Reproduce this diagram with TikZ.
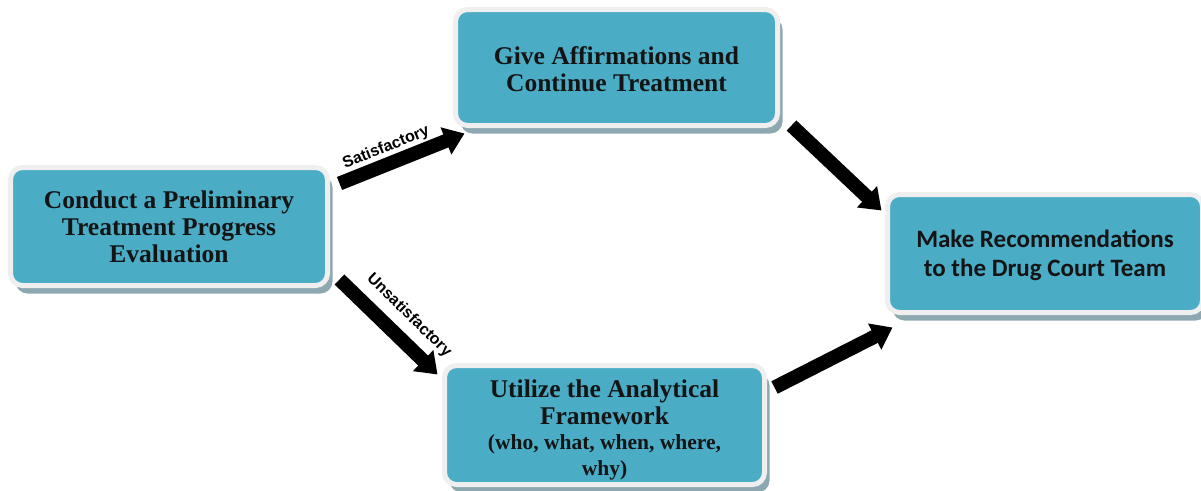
\documentclass[tikz,border=0pt]{standalone}
\usepackage{fontspec}
\setmainfont{Liberation Serif}
\newfontfamily\calfont{Carlito}
\newfontfamily\lblfont{Liberation Sans}
\usetikzlibrary{arrows.meta,shadows,calc}
\definecolor{tealbox}{HTML}{4BACC6}
\definecolor{rim}{HTML}{EFEFEF}
\definecolor{shade}{HTML}{8EA8B2}
\newcommand{\smallln}{\fontsize{21.5}{23}\selectfont}
\tikzset{
 box/.style={draw=rim, line width=5pt, fill=tealbox, rounded corners=12pt, align=center,
   inner sep=0pt, text=black!92, font=\bfseries\fontsize{25.5}{27}\selectfont,
   drop shadow={shadow xshift=5pt, shadow yshift=-8pt, fill=shade, opacity=1}},
 blk/.style={line width=14pt, -{Triangle[width=28pt,length=20pt]}, black},
 lbl/.style={font=\lblfont\bfseries\fontsize{16}{16}\selectfont, sloped, inner sep=0pt}
}
\begin{document}
\begin{tikzpicture}[x=1pt,y=-1pt]
\useasboundingbox (0,0) rectangle (1201,490);
\node[box, minimum width=317pt, minimum height=118pt] (b1) at (169,226.5)
  {Conduct a Preliminary\\Treatment Progress\\Evaluation};
\node[box, minimum width=322pt, minimum height=116pt] (b2) at (616.5,67.5)
  {\rule{0pt}{21pt}Give Affirmations and\\Continue Treatment};
\node[box, minimum width=315pt, minimum height=118pt, font=\calfont\bfseries\fontsize{25}{29}\selectfont] (b3) at (1045,253.5)
  {\rule{0pt}{22pt}Make Recommendations\\to the Drug Court Team};
\node[box, minimum width=320pt, minimum height=119pt] (b4) at (604.5,425)
  {\rule{0pt}{28pt}Utilize the Analytical\\Framework\\[-2pt]\smallln (who, what, when, where,\\[-1pt]\smallln why)};
\draw[blk] ($(b1.north east)+(9.5,18.5)$) -- node[lbl, pos=0.42, above=1.5pt] {Satisfactory} ($(b2.south west)+(11.5,5.5)$);
\draw[blk] ($(b1.south east)+(9.5,-8.5)$) -- node[lbl, pos=0.55, above=8pt] {Unsatisfactory} ($(b4.north west)+(-4.5,11.5)$);
\draw[blk] ($(b2.south east)+(11.5,-2.5)$) -- ($(b3.north west)+(-3.5,18.5)$);
\draw[blk] ($(b4.north east)+(7.5,24.5)$) -- ($(b3.south west)+(7.5,12.5)$);
\end{tikzpicture}
\end{document}
